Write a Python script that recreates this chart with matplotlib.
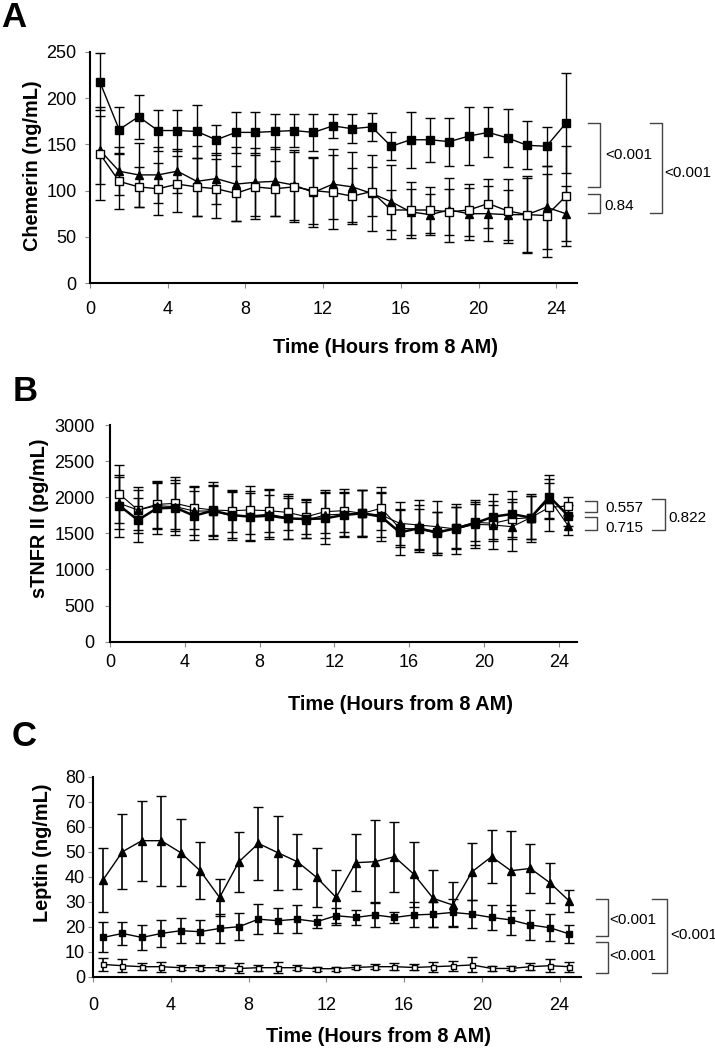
import matplotlib.pyplot as plt
from matplotlib.transforms import blended_transform_factory

plt.rcParams['font.family'] = ['Liberation Sans', 'DejaVu Sans']

### sampling times (hours from 8 AM)
hours = [0.5, 1.5, 2.5, 3.5, 4.5, 5.5, 6.5, 7.5, 8.5, 9.5, 10.5, 11.5, 12.5,
         13.5, 14.5, 15.5, 16.5, 17.5, 18.5, 19.5, 20.5, 21.5, 22.5, 23.5, 24.5]
time_ticks = [0, 4, 8, 12, 16, 20, 24]

### A - chemerin (ng/mL)
chem_filled = [218, 166, 180, 165, 165, 164, 155, 163, 163, 164, 165, 163, 170,
               167, 169, 148, 155, 155, 153, 159, 163, 157, 149, 148, 173]
chem_filled_err = [31, 25, 24, 22, 22, 29, 16, 22, 22, 19, 18, 20, 13,
                   16, 15, 15, 30, 24, 26, 31, 27, 31, 26, 21, 54]
chem_open = [140, 110, 104, 102, 107, 104, 102, 97, 104, 102, 104, 100, 98,
             94, 99, 79, 79, 79, 77, 79, 86, 78, 74, 73, 94]
chem_open_err = [50, 30, 22, 28, 30, 31, 32, 30, 35, 30, 38, 36, 40,
                 30, 27, 22, 30, 25, 25, 28, 27, 35, 42, 45, 54]
chem_tri = [144, 121, 117, 117, 121, 110, 113, 107, 109, 110, 106, 98, 107,
            104, 97, 88, 77, 74, 79, 75, 75, 74, 74, 82, 75]
chem_tri_err = [37, 26, 35, 30, 24, 38, 28, 40, 37, 37, 38, 37, 38,
                38, 41, 40, 25, 22, 35, 28, 30, 27, 40, 45, 30]

### B - sTNFR II (pg/mL)
tnf_filled = [1883, 1684, 1846, 1855, 1744, 1814, 1754, 1730, 1744, 1707, 1698, 1707, 1754,
              1777, 1731, 1514, 1569, 1514, 1569, 1639, 1731, 1768, 1717, 2008, 1745]
tnf_filled_err = [430, 300, 360, 380, 340, 390, 320, 330, 290, 280, 260, 350, 300,
                  330, 340, 320, 330, 280, 290, 300, 310, 320, 330, 300, 150]
tnf_open = [2044, 1823, 1901, 1915, 1855, 1823, 1814, 1823, 1814, 1790, 1730, 1800, 1814,
            1777, 1847, 1569, 1560, 1500, 1578, 1652, 1639, 1699, 1717, 1861, 1879]
tnf_open_err = [400, 280, 330, 360, 300, 340, 290, 330, 300, 250, 240, 300, 300,
                320, 300, 260, 280, 300, 280, 260, 250, 280, 300, 330, 120]
tnf_tri = [1915, 1823, 1883, 1869, 1809, 1809, 1744, 1744, 1763, 1717, 1684, 1754, 1767,
           1777, 1754, 1639, 1616, 1592, 1560, 1625, 1616, 1592, 1717, 1976, 1607]
tnf_tri_err = [360, 320, 320, 330, 330, 350, 340, 340, 340, 300, 250, 320, 300,
               320, 300, 300, 350, 360, 340, 330, 330, 340, 300, 280, 130]

### C - leptin (ng/mL)
lep_filled = [15.7, 17.3, 15.7, 17.3, 18.4, 18.0, 19.3, 20.0, 23.0, 22.4, 23.0, 22.0, 24.4,
              23.7, 24.7, 23.7, 24.7, 25.0, 25.7, 25.0, 23.7, 22.7, 20.7, 19.6, 17.1]
lep_filled_err = [6, 4.5, 5, 5.5, 5, 4.6, 5.7, 5.5, 6, 5, 5.5, 2.5, 3,
                  3, 5, 2.3, 5, 5, 5.4, 5.5, 5, 6, 6, 5.5, 3.6]
lep_open = [4.9, 4.4, 4.0, 4.0, 3.6, 3.6, 3.6, 3.3, 3.6, 3.6, 3.6, 3.2, 3.2,
            3.7, 4.0, 4.0, 3.7, 4.0, 4.3, 4.7, 3.3, 3.3, 4.0, 4.4, 4.0]
lep_open_err = [2.7, 2.5, 1.5, 2, 1, 1, 1, 2, 1.2, 2.3, 1, 0.8, 0.8,
                0.8, 1, 1.5, 1.2, 2, 2, 3, 1, 0.8, 1.5, 2.5, 2]
lep_tri = [38.7, 50.0, 54.4, 54.4, 49.6, 42.4, 31.7, 46.0, 53.3, 49.6, 46.0, 39.7, 31.7,
           45.6, 46.0, 48.0, 41.0, 31.3, 28.7, 42.0, 48.0, 42.4, 43.3, 37.6, 30.3]
lep_tri_err = [12.7, 15, 16, 18, 13.5, 11.5, 7.5, 12, 14.5, 14.8, 11, 11.7, 11,
               11.5, 16.7, 14, 13, 11.3, 9, 11.5, 10.5, 16, 9.7, 8, 4.5]

W, H = 715, 1050
fig = plt.figure(figsize=(W / 100, H / 100), dpi=100)


def make_axes(left, top, right, bottom):
    ax = fig.add_axes([left / W, 1 - bottom / H, (right - left) / W, (bottom - top) / H])
    for s in ["top", "right"]:
        ax.spines[s].set_visible(False)
    for s in ["left", "bottom"]:
        ax.spines[s].set_linewidth(1.5)
    ax.tick_params(direction="out", length=3.6, width=0.8, color="#888888", labelsize=13)
    return ax


def series(ax, y, err, marker, face, ms, lw=1.0, elw=1.0):
    ax.errorbar(hours, y, yerr=err, color="black", lw=lw, marker=marker, ms=ms,
                mfc=face, mec="black", mew=1.0, ecolor="black", elinewidth=elw,
                capsize=3.6, capthick=elw, clip_on=False)


def bracket(ax, x0, x1, y0, y1, label, tx, ty):
    tr = blended_transform_factory(ax.transAxes, ax.transData)
    ax.plot([x0, x1, x1, x0], [y0, y0, y1, y1], transform=tr, color="#444444",
            lw=1.0, clip_on=False)
    ax.text(tx, ty, label, transform=tr, ha="left", va="center", fontsize=11)


def labels(ax, ylabel, ylab_xy, xlab_xy):
    ax.set_ylabel(ylabel, fontsize=14.3, fontweight="bold")
    ax.yaxis.set_label_coords(*ylab_xy)
    ax.yaxis.label.set_va("center")
    ax.set_xlabel("Time (Hours from 8 AM)", fontsize=14.3, fontweight="bold")
    ax.xaxis.set_label_coords(*xlab_xy)
    ax.xaxis.label.set_va("center")


#### A
axA = make_axes(90, 52, 577, 283)
series(axA, chem_tri, chem_tri_err, "^", "black", 6.0)
series(axA, chem_open, chem_open_err, "s", "white", 5.4)
series(axA, chem_filled, chem_filled_err, "s", "black", 5.4)
axA.set_xlim(0, 25.07)
axA.set_ylim(0, 250)
axA.set_yticks([0, 50, 100, 150, 200, 250])
axA.set_xticks(time_ticks)
axA.tick_params(axis="x", pad=9.0)
axA.tick_params(axis="y", pad=6.0)
labels(axA, "Chemerin (ng/mL)", (-0.119, 0.506), (0.607, -0.281))
bracket(axA, 1.023, 1.047, 173.5, 104.2, "<0.001", 1.057, 138.5)
bracket(axA, 1.023, 1.047, 96.3, 76, "0.84", 1.057, 83)
bracket(axA, 1.150, 1.175, 173.5, 76, "<0.001", 1.179, 119.4)

#### B
axB = make_axes(110, 425, 576.7, 641.7)
series(axB, tnf_open, tnf_open_err, "s", "white", 5.4, lw=0.8)
series(axB, tnf_tri, tnf_tri_err, "^", "black", 6.0, lw=0.8)
series(axB, tnf_filled, tnf_filled_err, "s", "black", 5.4, lw=1.8)
axB.set_xlim(0, 24.96)
axB.set_ylim(0, 3000)
axB.set_yticks([0, 500, 1000, 1500, 2000, 2500, 3000])
axB.set_xticks(time_ticks)
axB.tick_params(axis="x", pad=5.0)
axB.tick_params(axis="y", pad=7.4)
labels(axB, "sTNFR II (pg/mL)", (-0.15, 0.571), (0.623, -0.292))
bracket(axB, 1.018, 1.043, 1948, 1800, "0.557", 1.061, 1847)
bracket(axB, 1.018, 1.043, 1731, 1547, "0.715", 1.061, 1570)
bracket(axB, 1.161, 1.189, 1972, 1547, "0.822", 1.196, 1709)

#### C
axC = make_axes(93.3, 776.7, 580.7, 976.7)
series(axC, lep_open, lep_open_err, "s", "white", 3.6, elw=1.2)
series(axC, lep_filled, lep_filled_err, "s", "black", 4.6, elw=1.2)
series(axC, lep_tri, lep_tri_err, "^", "black", 5.4, elw=1.2)
axC.set_xlim(0, 25.09)
axC.set_ylim(0, 80)
axC.set_yticks([0, 10, 20, 30, 40, 50, 60, 70, 80])
axC.set_xticks(time_ticks)
axC.tick_params(axis="x", pad=11.2)
axC.tick_params(axis="y", pad=2.2)
labels(axC, "Leptin (ng/mL)", (-0.104, 0.621), (0.585, -0.3))
bracket(axC, 1.031, 1.057, 31.0, 16.3, "<0.001", 1.059, 22.7)
bracket(axC, 1.031, 1.057, 14.0, 1.6, "<0.001", 1.059, 8.3)
bracket(axC, 1.146, 1.177, 31.0, 1.6, "<0.001", 1.183, 16.7)

### panel letters
for letter, x, y in [("A", 14, 17.5), ("B", 25, 391.7), ("C", 24, 736)]:
    fig.text(x / W, 1 - y / H, letter, fontsize=25, fontweight="bold", ha="center", va="center")

fig.savefig("out.png", dpi=100)
